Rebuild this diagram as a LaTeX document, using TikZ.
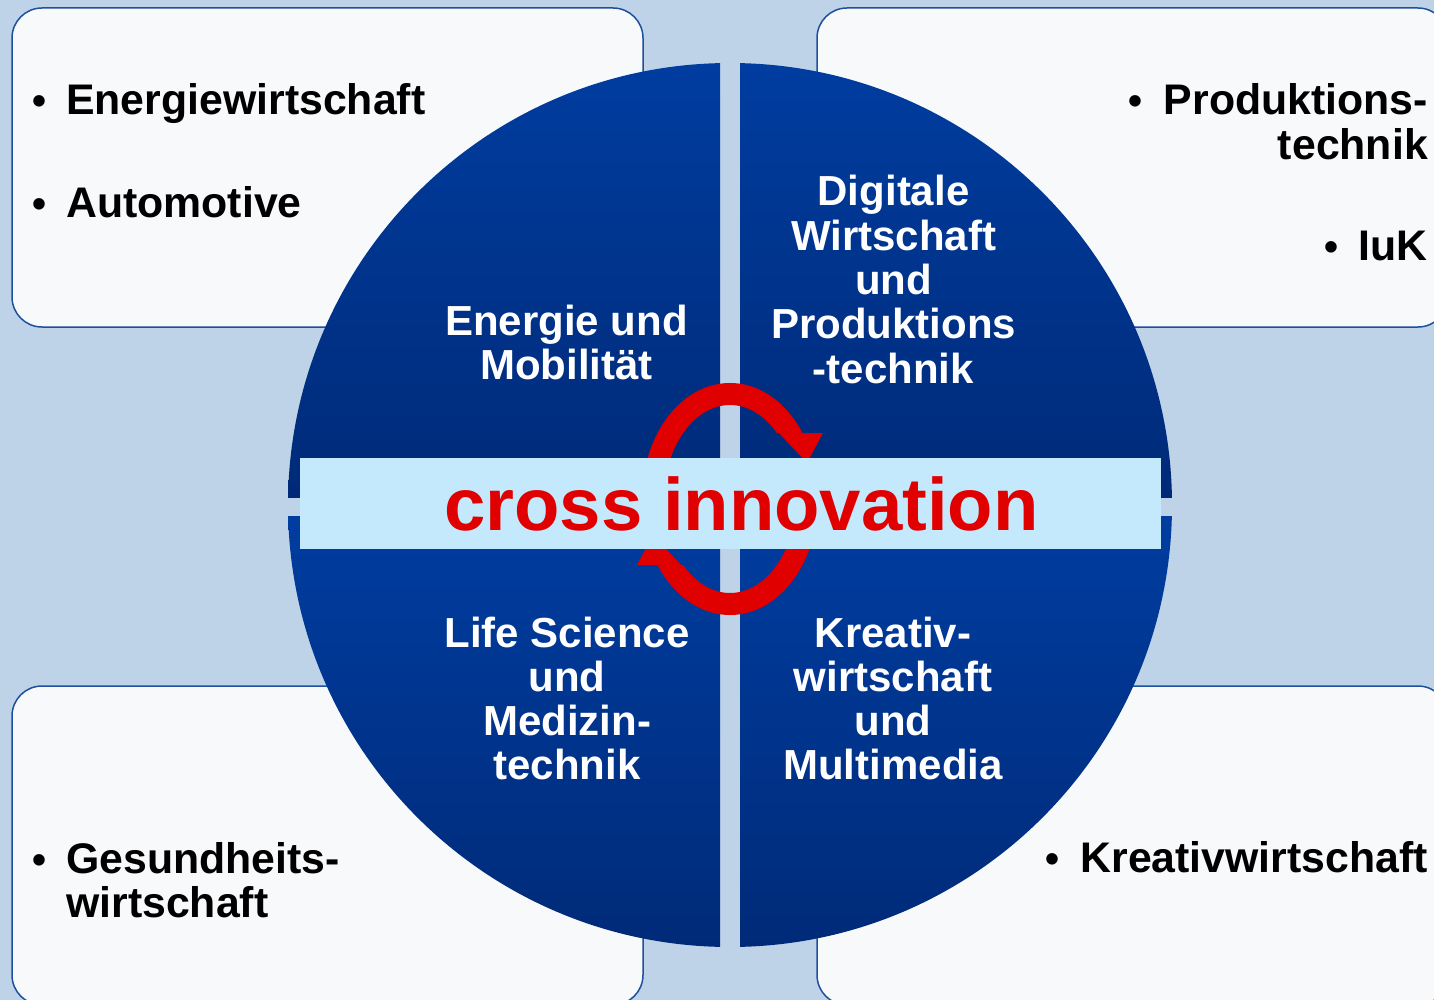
\documentclass[tikz,border=0pt]{standalone}
\usepackage{fontspec}
\setmainfont{Liberation Sans}
\definecolor{bgcol}{RGB}{190,211,232}
\definecolor{boxfill}{RGB}{248,249,251}
\definecolor{boxline}{RGB}{30,80,160}
\definecolor{qtop}{RGB}{0,61,160}
\definecolor{qbot}{RGB}{0,42,120}
\definecolor{bandcol}{RGB}{197,233,252}
\definecolor{ringred}{RGB}{224,0,0}
\newcommand{\mlc}[1]{\begin{tabular}[t]{@{}c@{}}#1\end{tabular}}
\newcommand{\mll}[1]{\begin{tabular}[t]{@{}l@{}}#1\end{tabular}}
\newcommand{\mlr}[1]{\begin{tabular}[t]{@{}r@{}}#1\end{tabular}}
\begin{document}
\begin{tikzpicture}[x=1pt,y=-1pt,
  sectorbox/.style={draw=boxline, line width=1.5pt, fill=boxfill, rounded corners=30pt},
  quad/.style={top color=qtop, bottom color=qbot},
  blacktxt/.style={font=\bfseries\fontsize{42.8}{43.5}\selectfont, text=black, inner sep=0pt},
  bulletdot/.style={font=\bfseries\fontsize{40}{43.5}\selectfont, text=black, inner sep=0pt, anchor=base},
  whitetxt/.style={font=\bfseries\fontsize{42}{44.3}\selectfont, text=white, inner sep=0pt, anchor=base},
  ringline/.style={draw=ringred, line width=22pt},
  ringhead/.style={fill=ringred}
]
\useasboundingbox (0,0) rectangle (1434,1000);
\fill[bgcol] (0,0) rectangle (1434,1000);

% side boxes
\path[sectorbox] (12,8) rectangle (643,327);
\path[sectorbox] (817,8) rectangle (1448,327);
\path[sectorbox] (12,686) rectangle (643,1005);
\path[sectorbox] (817,686) rectangle (1448,1005);

% quadrants of the circle
\begin{scope}
  \clip (730,505) circle[radius=442];
  \shade[quad] (280,60) rectangle (720,497);
  \shade[quad] (740,60) rectangle (1180,497);
  \shade[quad] (280,516) rectangle (720,950);
  \shade[quad] (740,516) rectangle (1180,950);
\end{scope}

% quadrant labels
\node[whitetxt] (q1) at (566.5,335.5) {\mlc{Energie und\\Mobilität}};
\node[whitetxt] (q2) at (893.5,206) {\mlc{Digitale\\Wirtschaft\\und\\Produktions\\-technik}};
\node[whitetxt] (q3) at (567,647) {\mlc{Life Science\\und\\Medizin-\\technik}};
\node[whitetxt] (q4) at (893,647) {\mlc{Kreativ-\\wirtschaft\\und\\Multimedia}};

% red cycle arrows
\begin{scope}
  \clip (600,370) -- (860,370) -- (860,433) -- (760,433) -- (760,520) -- (600,520) -- cycle;
  \draw[ringline] (653,499) arc[start angle=180, end angle=345, x radius=77, y radius=105];
\end{scope}
\fill[ringhead] (779,433) -- (823,433) -- (807,463) -- cycle;
\begin{scope}
  \clip (860,628) -- (600,628) -- (600,565) -- (700,565) -- (700,478) -- (860,478) -- cycle;
  \draw[ringline] (807,499) arc[start angle=0, end angle=165, x radius=77, y radius=105];
\end{scope}
\fill[ringhead] (681,565) -- (637,565) -- (653,535) -- cycle;

% central band
\fill[bandcol] (300,458) rectangle (1161,549);
\node[font=\bfseries\fontsize{74.3}{80}\selectfont, text=ringred, inner sep=0pt, anchor=base] (ci) at (741.5,530.5) {cross innovation};

% box texts
\node[bulletdot] (b1) at (40,115) {•};
\node[blacktxt, anchor=base west] (t1) at (66,115) {Energiewirtschaft};
\node[bulletdot] (b2) at (40,218) {•};
\node[blacktxt, anchor=base west] (t2) at (66,218) {Automotive};

\node[bulletdot] (b3) at (1135,115) {•};
\node[blacktxt, anchor=base east] (t3) at (1428,115) {\mlr{Produktions-\\technik}};
\node[bulletdot] (b4) at (1331,261) {•};
\node[blacktxt, anchor=base east] (t4) at (1428,261) {IuK};

\node[bulletdot] (b5) at (40,873) {•};
\node[blacktxt, anchor=base west] (t5) at (66,873) {\mll{Gesundheits-\\wirtschaft}};
\node[bulletdot] (b6) at (1052,872) {•};
\node[blacktxt, anchor=base east] (t6) at (1428,872) {Kreativwirtschaft};
\end{tikzpicture}
\end{document}
